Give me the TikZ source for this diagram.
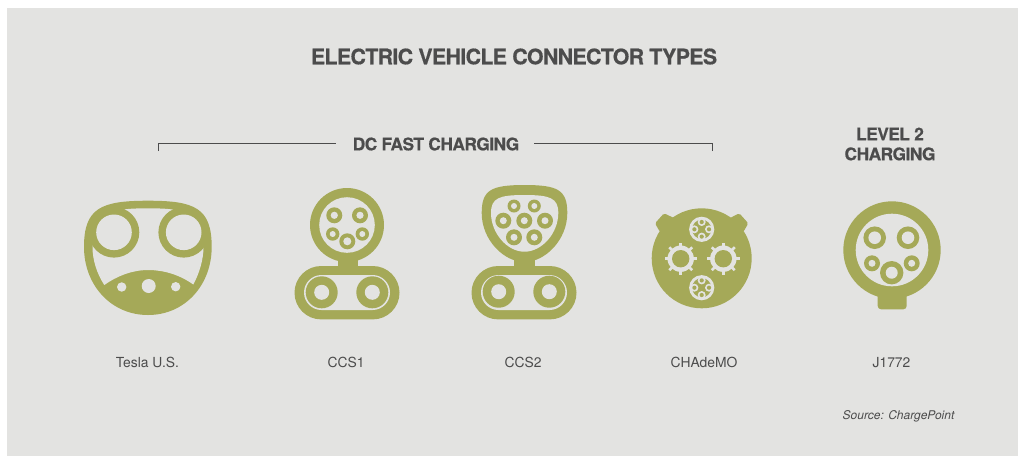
\documentclass[tikz,border=0pt]{standalone}
\usepackage{fontspec}
\setmainfont{TeX Gyre Heros}
\newfontfamily\headfont[LetterSpace=-3,BoldFeatures={FakeBold=0.5}]{TeX Gyre Heros}
\definecolor{panel}{HTML}{E3E3E1}
\definecolor{olive}{HTML}{A5A958}
\definecolor{ink}{HTML}{4C4C4C}
\tikzset{
 head/.style={font=\headfont\bfseries\fontsize{13}{15}\selectfont,text=ink,inner sep=0pt,align=center},
 lab/.style={font=\fontsize{10.4}{12}\selectfont,text=ink,inner sep=0pt},
 bracket/.style={draw=ink,line width=0.75pt},
}
% pin: x y outer-radius hole-radius (pixels)
\newcommand{\pin}[4]{\fill[olive] (#1,#2) circle[radius=#3];\fill[panel] (#1,#2) circle[radius=#4];}
\newcommand{\gear}[2]{%
 \foreach \a in {0,45,...,315}{\draw[panel,line width=2pt] (#1,#2) -- ++(\a:16.2);}
 \fill[panel] (#1,#2) circle[radius=13.2];
 \fill[olive] (#1,#2) circle[radius=8.7];}
\newcommand{\minipin}[2]{%
 \fill[panel] (#1,#2) circle[radius=12.6];
 \fill[olive] (#1,#2) circle[radius=9.6];
 \foreach \a in {-90,0,90,180}{\fill[panel] (#1,#2) ++(\a:7.3) circle[radius=4];\fill[olive] (#1,#2) ++(\a:7.3) circle[radius=2.1];}}
\newcommand{\capsule}[2]{% centre x, ring centre y
 \fill[olive,rounded corners=20pt] (#1-52.5,266) rectangle (#1+52.5,319.4);
 \fill[panel,rounded corners=13.1pt] (#1-43,275) rectangle (#1+43,310);
 \pin{#1-25.3}{#2}{16}{7.5}\pin{#1+25.3}{#2}{16}{7.5}}
\begin{document}
\begin{tikzpicture}[x=0.75pt,y=-0.75pt]
\useasboundingbox (0,0) rectangle (1024,462);
\fill[white] (0,0) rectangle (1024,462);
\fill[panel] (7,8) rectangle (1018,456);
% headings
\node[head,font=\headfont\bfseries\fontsize{16}{18}\selectfont] (title) at (514,56.5) {ELECTRIC VEHICLE CONNECTOR TYPES};
\node[head] (dc) at (436,144) {DC FAST CHARGING};
\node[head] (l2) at (890,144) {LEVEL 2\\CHARGING};
\coordinate (bl) at (158,151); \coordinate (br) at (712.3,151);
\coordinate (bla) at (335.7,143.3); \coordinate (bra) at (534.3,143.3);
\draw[bracket] (bl) |- (bla);
\draw[bracket] (br) |- (bra);
% Tesla
\fill[olive] (148,200.7) .. controls (195,200.7) and (211.7,208) .. (211.7,247)
 .. controls (211.7,285) and (185,315) .. (148,315)
 .. controls (111,315) and (84,285) .. (84,247)
 .. controls (84,208) and (101,200.7) .. (148,200.7) -- cycle;
\fill[panel] (148,208.3) .. controls (185,208.3) and (203.5,212) .. (203.5,247)
 .. controls (203.5,260) and (199,274) .. (193.3,284.5)
 .. controls (180,275) and (164,270) .. (148.3,270)
 .. controls (132,270) and (117,276) .. (104.3,285)
 .. controls (97,274) and (92.5,260) .. (92.5,247)
 .. controls (92.5,212) and (111,208.3) .. (148,208.3) -- cycle;
\pin{114}{232.3}{25.3}{17.8}
\pin{183.7}{232.3}{25.3}{17.8}
\fill[panel] (121.7,287) circle[radius=4.7];
\fill[panel] (148.7,286) circle[radius=7];
\fill[panel] (175.7,286.7) circle[radius=4.7];
% CCS1
\pin{347}{225}{37}{27.8}
\fill[olive] (338.3,255) rectangle (357.7,270);
\capsule{347}{292.3}
\pin{334.3}{215.3}{8}{3.6}
\pin{360}{215.3}{8}{3.6}
\pin{332.7}{234}{6.7}{3}
\pin{362.3}{234}{6.7}{3}
\pin{347.3}{241.3}{8}{4}
% CCS2
\fill[olive] (524.5,185) .. controls (558,185) and (567.3,190) .. (567.3,213)
 .. controls (567.3,240) and (545,262) .. (524.5,262)
 .. controls (504,262) and (481.7,240) .. (481.7,213)
 .. controls (481.7,190) and (491,185) .. (524.5,185) -- cycle;
\fill[panel] (524.5,195) .. controls (550,195) and (558.3,198) .. (558.3,213)
 .. controls (558.3,233) and (542,251.7) .. (524.5,251.7)
 .. controls (507,251.7) and (491,233) .. (491,213)
 .. controls (491,198) and (499,195) .. (524.5,195) -- cycle;
\fill[olive] (514.3,255) rectangle (535,270);
\capsule{524}{291.7}
\pin{514}{206}{6.5}{3}
\pin{534.3}{206}{6.5}{3}
\pin{503.3}{220.7}{8}{3.5}
\pin{524.3}{220.7}{8}{3.5}
\pin{545}{220.7}{8}{3.5}
\pin{514}{237.3}{8}{3.5}
\pin{534.3}{237.3}{8}{3.5}
% CHAdeMO
\fill[olive,rounded corners=1.2] (660,232) -- (655,223.3) -- (664,213.3) -- (674,218) -- (690,225) -- cycle;
\fill[olive,rounded corners=1.2] (743.3,232) -- (748.3,223.3) -- (739.3,213.3) -- (730,218) -- (714,225) -- cycle;
\fill[olive] (701.7,258.3) circle[radius=50];
\gear{680.7}{258.7}
\gear{723.3}{258.7}
\minipin{701.7}{229.3}
\minipin{701.7}{287.7}
% J1772
\fill[olive,rounded corners=2.5] (877.7,290) -- (877.7,309.3) -- (906.7,309.3) -- (906.7,290) -- cycle;
\pin{892}{250}{48.7}{36.3}
\pin{874.7}{237.7}{11.3}{6.3}
\pin{908}{237.7}{11.3}{6.3}
\pin{872}{263.3}{8}{3.5}
\pin{911.7}{263.3}{8}{3.5}
\pin{891.7}{272.7}{11.7}{6}
% labels
\node[lab] (l1) at (147.5,362.5) {Tesla U.S.};
\node[lab] (l2b) at (346,362.5) {CCS1};
\node[lab] (l3) at (523,362.5) {CCS2};
\node[lab] (l4) at (704,362.5) {CHAdeMO};
\node[lab] (l5) at (891.5,363) {J1772};
\node[lab,font=\itshape\fontsize{9}{11}\selectfont] (src) at (898.5,416) {Source: ChargePoint};
\end{tikzpicture}
\end{document}
